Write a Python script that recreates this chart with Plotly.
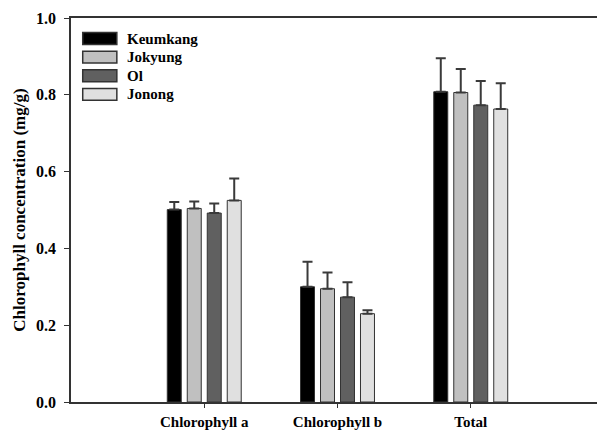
import plotly.graph_objects as go

categories = ["Chlorophyll a", "Chlorophyll b", "Total"]
series_names = ["Keumkang", "Jokyung", "Ol", "Jonong"]
keumkang = [0.501, 0.300, 0.808]
jokyung = [0.504, 0.295, 0.806]
ol = [0.492, 0.273, 0.773]
jonong = [0.525, 0.230, 0.763]
keumkang_err = [0.020, 0.065, 0.087]
jokyung_err = [0.018, 0.042, 0.061]
ol_err = [0.025, 0.039, 0.063]
jonong_err = [0.057, 0.009, 0.067]
y_ticks = [0.0, 0.2, 0.4, 0.6, 0.8, 1.0]

values = [keumkang, jokyung, ol, jonong]
errors = [keumkang_err, jokyung_err, ol_err, jonong_err]
colors = ["#000000", "#c0c0c0", "#606060", "#e0e0e0"]

FONT = "Liberation Serif"

fig = go.Figure()
for name, vals, err, col in zip(series_names, values, errors, colors):
    fig.add_trace(go.Bar(
        x=categories, y=vals, name=name,
        marker=dict(color=col, line=dict(color="#333333", width=1)),
        error_y=dict(type="data", symmetric=False, array=err,
                     arrayminus=[0] * len(err), color="#3a3a3a",
                     thickness=2, width=5),
        showlegend=False,
    ))

# manual legend (wide swatches like the original)
leg_x0, leg_x1 = 0.022, 0.086
row_top = 0.962
row_h = 0.0485
sw_h = 0.031
for i, (name, col) in enumerate(zip(series_names, colors)):
    yc = row_top - i * row_h - sw_h / 2
    fig.add_shape(type="rect", xref="paper", yref="paper",
                  x0=leg_x0, x1=leg_x1, y0=yc - sw_h / 2, y1=yc + sw_h / 2,
                  fillcolor=col, line=dict(color="#333333", width=1.5))
    fig.add_annotation(xref="paper", yref="paper", x=0.102, y=yc,
                       text=name, showarrow=False, xanchor="left",
                       yanchor="middle",
                       font=dict(family=FONT, size=15, color="#000000",
                                 weight="bold"))

# page body has an 8px default margin: size the figure to fit the window
fig.update_layout(
    width=597, height=422,
    margin=dict(l=63, r=1, t=10, b=28, autoexpand=False),
    paper_bgcolor="white", plot_bgcolor="white",
    barmode="group", bargap=0.4, bargroupgap=0.3,
    font=dict(family=FONT, color="#000000"),
)
fig.update_xaxes(
    range=[-1, 3], showline=True, linecolor="#333333", linewidth=1.5,
    mirror=True, ticks="outside", ticklen=4, tickcolor="#333333",
    tickwidth=1, showgrid=False, zeroline=False, automargin=False,
    ticklabelstandoff=1,
    tickfont=dict(family=FONT, size=15, color="#000000", weight="bold"),
)
fig.update_yaxes(
    range=[0, 1.0], tickvals=y_ticks, tickformat=".1f",
    showline=True, linecolor="#333333", linewidth=1.5, mirror=True,
    ticks="outside", ticklen=5, tickcolor="#333333", tickwidth=1,
    showgrid=False, zeroline=False, ticklabelstandoff=5, automargin=False,
    tickfont=dict(family=FONT, size=16, color="#000000", weight="bold"),
    title=dict(text="Chlorophyll concentration (mg/g)", standoff=6,
               font=dict(family=FONT, size=17, color="#000000",
                         weight="bold")),
)

fig.write_html("out.html")
